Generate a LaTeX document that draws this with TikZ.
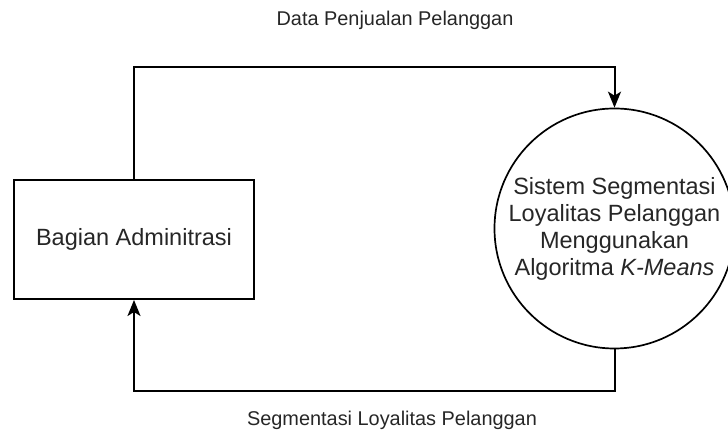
\documentclass[tikz,border=0pt]{standalone}
\usepackage{fontspec}
\setmainfont{Liberation Sans}
\usetikzlibrary{arrows.meta}
\begin{document}
\begin{tikzpicture}[x=1pt,y=1pt,
		entity/.style={draw,line width=2pt,minimum width=240pt,minimum height=119pt,inner sep=0pt,font=\fontsize{23.5}{27}\selectfont,text=black!85},
		process/.style={draw,line width=1.7pt,circle,minimum size=240pt,inner sep=0pt,align=center,font=\fontsize{23.5}{27}\selectfont,text=black!85},
		flow/.style={line width=2pt,-{Stealth[length=16pt,width=13pt,inset=4pt]}},
		flowlabel/.style={font=\fontsize{19.9}{23}\selectfont,text=black!85}]
					\useasboundingbox (0,0) rectangle (728,433);
					\node[entity] (admin) at (134,193.5) {Bagian Adminitrasi};
					\node[process] (sistem) at (614.5,204.5) {Sistem Segmentasi\\Loyalitas Pelanggan\\Menggunakan\\Algoritma \textit{K-Means}};
					\draw[flow] (admin.north) -- ++(0,112) -| (sistem.north);
					\draw[flow] (sistem.south) -- ++(0,-42) -| (admin.south);
					\node[flowlabel] (datalabel) at (395,413) {Data Penjualan Pelanggan};
					\node[flowlabel] (segmenlabel) at (392,13) {Segmentasi Loyalitas Pelanggan};
				\end{tikzpicture}
\end{document}
